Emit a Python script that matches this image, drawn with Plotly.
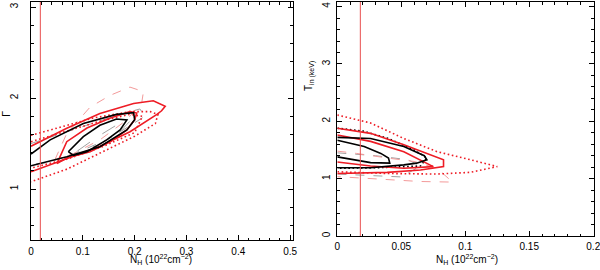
import plotly.graph_objects as go

# Galactic column density (vertical reference line), 1e22 cm^-2
nh_gal = 0.018

# ---------------- Left panel: Gamma vs N_H ----------------
L_red_outer_x = [0, 0.069, 0.133, 0.198, 0.236, 0.259, 0.252, 0.243, 0.191, 0.133, 0.062, 0]
L_red_outer_y = [1.47, 1.667, 1.83, 1.94, 1.97, 1.91, 1.86, 1.82, 1.63, 1.47, 1.32, 1.19]

L_red_inner_x = [0.05, 0.069, 0.108, 0.153, 0.191, 0.204, 0.200, 0.185, 0.153, 0.114, 0.069, 0.05]
L_red_inner_y = [1.28, 1.52, 1.67, 1.78, 1.85, 1.835, 1.76, 1.65, 1.52, 1.41, 1.34, 1.28]

L_red_dot_x = [0, 0.05, 0.12, 0.19, 0.23, 0.245, 0.24, 0.20, 0.133, 0.07, 0]
L_red_dot_y = [1.59, 1.67, 1.78, 1.85, 1.85, 1.82, 1.72, 1.58, 1.39, 1.22, 1.08]

L_red_dot2_x = [0, 0.06, 0.13, 0.19, 0.215, 0.20, 0.14, 0.07, 0]
L_red_dot2_y = [1.52, 1.62, 1.74, 1.82, 1.80, 1.62, 1.47, 1.33, 1.23]

L_black_outer_x = [0, 0.037, 0.101, 0.165, 0.198, 0.200, 0.185, 0.133, 0.069, 0.017, 0]
L_black_outer_y = [1.385, 1.54, 1.72, 1.82, 1.84, 1.76, 1.65, 1.465, 1.355, 1.28, 1.256]

L_black_inner_x = [0.072, 0.101, 0.133, 0.165, 0.185, 0.172, 0.146, 0.108, 0.082, 0.072]
L_black_inner_y = [1.41, 1.575, 1.70, 1.77, 1.76, 1.65, 1.54, 1.41, 1.37, 1.41]

L_pink_dash_x = [0.046, 0.069, 0.114, 0.153, 0.191, 0.217, 0.214, 0.185, 0.133, 0.082, 0.046]
L_pink_dash_y = [1.32, 1.61, 1.90, 2.03, 2.12, 2.07, 1.96, 1.76, 1.54, 1.39, 1.32]

L_gray_dash_x = [0, 0.07, 0.15, 0.21, 0.22, 0.15, 0.08, 0.03, 0]
L_gray_dash_y = [1.50, 1.63, 1.78, 1.88, 1.80, 1.55, 1.38, 1.29, 1.27]

L_gray_inner_x = [0.09, 0.13, 0.17, 0.19, 0.17, 0.13, 0.09]
L_gray_inner_y = [1.42, 1.58, 1.72, 1.74, 1.62, 1.48, 1.42]

# ---------------- Right panel: T_in vs N_H ----------------
R_red_dot_x = [0, 0.026, 0.052, 0.078, 0.104, 0.125, 0.104, 0.078, 0.039, 0]
R_red_dot_y = [2.11, 1.97, 1.70, 1.47, 1.33, 1.21, 1.11, 1.08, 1.09, 1.12]

R_red_outer_x = [0, 0.026, 0.052, 0.073, 0.083, 0.083, 0.065, 0.039, 0]
R_red_outer_y = [1.88, 1.79, 1.59, 1.41, 1.33, 1.21, 1.15, 1.11, 1.09]

R_red_inner_x = [0, 0.026, 0.052, 0.075, 0.052, 0.026, 0]
R_red_inner_y = [1.76, 1.65, 1.47, 1.21, 1.18, 1.22, 1.29]

R_black_dot_x = [0, 0.02, 0.04, 0.06, 0.07, 0.065, 0.03, 0]
R_black_dot_y = [1.88, 1.83, 1.70, 1.50, 1.36, 1.22, 1.19, 1.18]

R_black_outer_x = [0, 0.026, 0.052, 0.068, 0.070, 0.062, 0.052, 0.039, 0.026, 0]
R_black_outer_y = [1.72, 1.70, 1.56, 1.40, 1.33, 1.27, 1.24, 1.21, 1.19, 1.19]

R_black_inner_x = [0, 0.021, 0.034, 0.040, 0.041, 0.026, 0]
R_black_inner_y = [1.67, 1.56, 1.44, 1.36, 1.27, 1.28, 1.38]

R_pink_dash_x = [0, 0.015, 0.039, 0.060, 0.078, 0.090, 0.065, 0.039, 0]
R_pink_dash_y = [1.48, 1.44, 1.36, 1.30, 1.18, 0.94, 0.95, 0.98, 1.035]

R_gray_dash_x = [0, 0.03, 0.055, 0.065, 0.05, 0.02, 0]
R_gray_dash_y = [1.45, 1.40, 1.33, 1.22, 1.03, 1.06, 1.08]

RED = "#ee1c25"
PINK = "#f39a9a"
GRAY = "#a0a0a0"
DOT = "1.6px,2.6px"

fig = go.Figure()


def add(x, y, color, width, dash, xa, ya):
    fig.add_trace(go.Scatter(x=x, y=y, mode="lines", xaxis=xa, yaxis=ya,
                             line=dict(color=color, width=width, dash=dash),
                             showlegend=False, hoverinfo="skip"))


# left panel traces
add(L_gray_dash_x, L_gray_dash_y, GRAY, 1, "dash", "x", "y")
add(L_gray_inner_x, L_gray_inner_y, GRAY, 1, "longdash", "x", "y")
add(L_pink_dash_x, L_pink_dash_y, PINK, 1, "dash", "x", "y")
add(L_red_dot_x, L_red_dot_y, RED, 1.6, DOT, "x", "y")
add(L_red_dot2_x, L_red_dot2_y, RED, 1.6, DOT, "x", "y")
add(L_red_outer_x, L_red_outer_y, RED, 1.6, "solid", "x", "y")
add(L_red_inner_x, L_red_inner_y, RED, 1.6, "solid", "x", "y")
add(L_black_outer_x, L_black_outer_y, "black", 1.6, "solid", "x", "y")
add(L_black_inner_x, L_black_inner_y, "black", 1.6, "solid", "x", "y")
add([nh_gal, nh_gal], [0.44, 3.055], "#e85050", 1, "solid", "x", "y")

# right panel traces
add(R_gray_dash_x, R_gray_dash_y, GRAY, 1, "dash", "x2", "y2")
add(R_pink_dash_x, R_pink_dash_y, PINK, 1, "dash", "x2", "y2")
add(R_red_dot_x, R_red_dot_y, RED, 1.6, DOT, "x2", "y2")
add(R_black_dot_x, R_black_dot_y, "black", 1.6, DOT, "x2", "y2")
add(R_red_outer_x, R_red_outer_y, RED, 1.6, "solid", "x2", "y2")
add(R_red_inner_x, R_red_inner_y, RED, 1.6, "solid", "x2", "y2")
add(R_black_outer_x, R_black_outer_y, "black", 1.6, "solid", "x2", "y2")
add(R_black_inner_x, R_black_inner_y, "black", 1.6, "solid", "x2", "y2")
add([nh_gal, nh_gal], [0, 4.08], "#e85050", 1, "solid", "x2", "y2")

FONT = dict(family="Liberation Sans, Arial, sans-serif", size=10, color="black")


def axis_style(dtick, minor_dtick, rng, domain, anchor, **kw):
    d = dict(range=rng, domain=domain, anchor=anchor, dtick=dtick, tick0=0,
             automargin=False, ticklabeloverflow="allow",
             showline=True, linecolor="black", linewidth=1, mirror="allticks",
             ticks="inside", ticklen=5, tickwidth=1, tickcolor="black",
             showgrid=False, zeroline=False, tickfont=FONT,
             minor=dict(dtick=minor_dtick, tick0=0, ticks="inside", ticklen=2.5,
                        tickwidth=1, tickcolor="black", showgrid=False))
    d.update(kw)
    return d


fig.update_layout(
    width=600, height=270,
    margin=dict(l=0, r=0, t=0, b=0, autoexpand=False),
    paper_bgcolor="white", plot_bgcolor="white",
    font=FONT,
    xaxis=axis_style(0.1, 0.02, [0, 0.505], [31 / 600, 292.7 / 600], "y",
                     ticklabelstandoff=2),
    yaxis=axis_style(1, 0.2, [0.44, 3.055], [30 / 270, 268 / 270], "x",
                     tickangle=-90, ticklabelstandoff=8),
    xaxis2=axis_style(0.05, 0.01, [0, 0.2002], [337.3 / 600, 593.5 / 600], "y2",
                      ticklabelstandoff=1),
    yaxis2=axis_style(1, 0.2, [0, 4.08], [34 / 270, 268 / 270], "x2",
                      tickangle=-90, ticklabelstandoff=2),
    annotations=[
        dict(text="N<sub>H</sub> (10<sup>22</sup>cm<sup>−2</sup>)", xref="paper", yref="paper",
             x=161 / 600, y=(270 - 259.5) / 270, showarrow=False, font=FONT,
             xanchor="center", yanchor="middle"),
        dict(text="N<sub>H</sub> (10<sup>22</sup>cm<sup>−2</sup>)", xref="paper", yref="paper",
             x=467 / 600, y=(270 - 259) / 270, showarrow=False, font=FONT,
             xanchor="center", yanchor="middle"),
        dict(text="Γ", xref="paper", yref="paper", x=6 / 600, y=(270 - 114) / 270,
             showarrow=False, font=dict(family=FONT["family"], size=11, color="black"),
             textangle=-90, xanchor="center", yanchor="middle"),
        dict(text="T<sub>in (keV)</sub>", xref="paper", yref="paper", x=310 / 600,
             y=(270 - 76) / 270, showarrow=False, font=FONT,
             textangle=-90, xanchor="center", yanchor="middle"),
    ],
)

fig.write_html("out.html", config={"displayModeBar": False},
               post_script="document.body.style.margin='0';document.body.style.padding='0';")
